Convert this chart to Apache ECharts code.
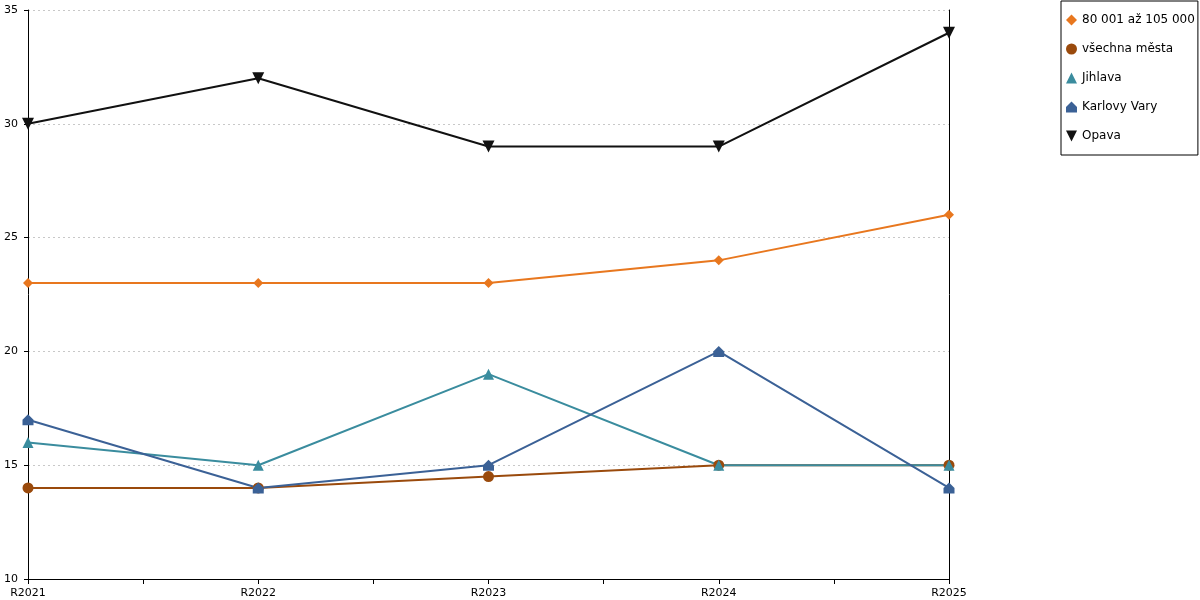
<!DOCTYPE html>
<html><head><meta charset="utf-8">
<script src="https://cdn.jsdelivr.net/npm/echarts@6/dist/echarts.min.js"></script>
<style>html,body{margin:0;padding:0;background:#fff}#c{width:1200px;height:600px}</style>
</head><body><div id="c"></div>
<script>
const categories = ['R2021','R2022','R2023','R2024','R2025'];
const yTicks = [10,15,20,25,30,35];
const s80k = [23,23,23,24,26];
const sAll = [14,14,14.5,15,15];
const sJihlava = [16,15,19,15,15];
const sKV = [17,14,15,20,14];
const sOpava = [30,32,29,29,34];
const names = ['80 001 až 105 000','všechna města','Jihlava','Karlovy Vary','Opava'];
const colors = ['#e8771e','#9a4a0c','#3a8c9e','#3b6196','#111111'];
const symbols = ['diamond','circle','triangle','path://M0,5 L5,0 L10,5 L10,10 L0,10 Z','path://M0,0 L10,0 L5,10 Z'];
const sizes = [10,11,11,11,12];
const values = [s80k,sAll,sJihlava,sKV,sOpava];
const font = 'DejaVu Sans';
const chart = echarts.init(document.getElementById('c'));
chart.setOption({
  animation:false,
  textStyle:{fontFamily:font},
  grid:{left:28,right:251,top:10,bottom:21,containLabel:false},
  legend:{orient:'vertical',left:1061,top:1,padding:[13,3,13,5],itemWidth:11,itemHeight:11,itemGap:17,itemGap:17,
    borderColor:'#000',borderWidth:1,textStyle:{fontFamily:font,fontSize:12,color:'#000'},
    data:names.map((n,i)=>({name:n,icon:symbols[i],itemStyle:{color:colors[i]}}))},
  xAxis:{type:'value',min:0,max:categories.length-1,interval:0.5,
    axisLine:{show:true,onZero:false,lineStyle:{color:'#000',width:1}},
    axisTick:{show:true,length:5,lineStyle:{color:'#000'}},
    splitLine:{show:false},
    axisLabel:{fontFamily:font,fontSize:11,color:'#000',margin:9,showMinLabel:true,showMaxLabel:true,
      formatter:v=>Number.isInteger(v)?categories[v]:''}},
  yAxis:[{type:'value',min:yTicks[0],max:yTicks[yTicks.length-1],interval:5,
    axisLine:{show:true,lineStyle:{color:'#000'}},
    axisTick:{show:true,length:4,lineStyle:{color:'#000'}},
    axisLabel:{fontFamily:font,fontSize:11,color:'#000',margin:10},
    splitLine:{show:true,lineStyle:{color:'#c8c8c8',type:[2,3],width:1}}},
   {type:'value',position:'right',min:10,max:35,interval:5,
    axisLine:{show:true,lineStyle:{color:'#000'}},axisTick:{show:false},axisLabel:{show:false},splitLine:{show:false}}],
  series:values.map((d,i)=>({name:names[i],type:'line',data:d.map((v,j)=>[j,v]),
    symbol:symbols[i],symbolSize:sizes[i],showSymbol:true,
    itemStyle:{color:colors[i]},lineStyle:{color:colors[i],width:2}}))
});
</script></body></html>
